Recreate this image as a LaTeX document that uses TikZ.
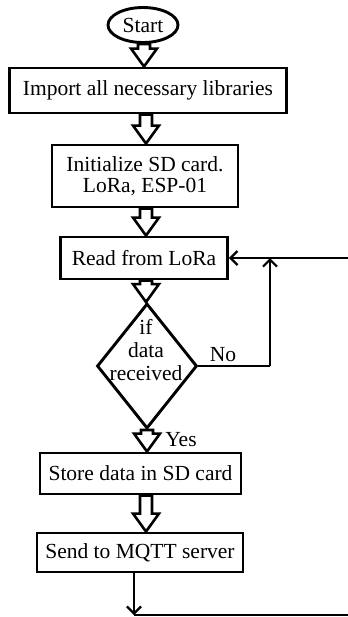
\documentclass[tikz,border=0pt]{standalone}
\usepackage{fontspec}
\setmainfont{Liberation Serif}
\usetikzlibrary{shapes.geometric,arrows.meta,calc}
\tikzset{
  box/.style={draw, line width=1.45pt, rectangle, inner sep=0pt, align=center},
  term/.style={draw, line width=1.45pt, ellipse, inner sep=0pt},
  decision/.style={draw, line width=1.45pt, diamond, inner sep=0pt},
  blk/.style={draw, line width=1.3pt, fill=white, line join=miter},
  conn/.style={line width=1.1pt},
  tip/.style={-{Straight Barb[length=3.5pt,width=7pt,line width=1.1pt]}},
  lbl/.style={inner sep=0pt, align=center}
}
\newcommand\blockarrow[2]{%
  \path[blk] let \p1=(#1), \p2=(#2) in
    (\x1-3pt,\y1) -- (\x1-3pt,\y2+9pt) -- (\x1-6.5pt,\y2+9pt) -- (\x1,\y2)
    -- (\x1+6.5pt,\y2+9pt) -- (\x1+3pt,\y2+9pt) -- (\x1+3pt,\y1) -- cycle;}
\begin{document}
\begin{tikzpicture}[x=0.5pt,y=-0.5pt,font=\fontsize{10.75}{11.5}\selectfont]
\useasboundingbox (0,0) rectangle (348,617);
\clip (0,0) rectangle (348,617);
\fill[white] (0,0) rectangle (348,617);

\node[term, minimum width=35pt, minimum height=17.5pt] (start) at (143,25) {Start};
\node[box, minimum width=138.5pt, minimum height=22.5pt] (import) at (148,90.5) {Import all necessary libraries};
\node[box, minimum width=93pt, minimum height=31pt] (init) at (145,176) {Initialize SD card.\\[-1.2pt]LoRa, ESP-01};
\node[box, minimum width=83.5pt, minimum height=21pt] (read) at (144,258) {Read from LoRa};
\node[decision, minimum width=50pt, minimum height=62.5pt] (dia) at (147,366) {};
\node[lbl] (diatext) at (146,350) {if\\data\\received};
\node[box, minimum width=100.5pt, minimum height=20.5pt] (store) at (140.5,473.5) {Store data in SD card};
\node[box, minimum width=103pt, minimum height=19.5pt] (send) at (140,552.5) {Send to MQTT server};

\node[lbl] (no) at (223,355) {No};
\node[lbl] (yes) at (181,440) {Yes};

\coordinate (ax1) at (144,0);
\coordinate (ax2) at (146,0);
\coordinate (ax3) at (147,0);
\blockarrow{start.south -| ax1}{import.north -| ax1}
\blockarrow{import.south -| ax2}{init.north -| ax2}
\blockarrow{init.south -| ax2}{read.north -| ax2}
\blockarrow{read.south -| ax2}{dia.north -| ax2}
\blockarrow{dia.south -| ax3}{store.north -| ax3}
\blockarrow{store.south -| ax2}{send.north -| ax2}

\coordinate (nocorner) at (270,366);
\coordinate (nojoin) at (270,258);
\coordinate (sendx) at (134,0);
\coordinate (bot) at (134,615);
\coordinate (botright) at (356,615);
\coordinate (topright) at (356,258);

\draw[conn] (dia.east) -- (nocorner);
\draw[conn, tip] (nocorner) -- (nojoin);
\draw[conn, tip] (send.south -| sendx) -- (bot);
\draw[conn, tip] (bot) -- (botright) -- (topright) -- (read.east);
\end{tikzpicture}
\end{document}
